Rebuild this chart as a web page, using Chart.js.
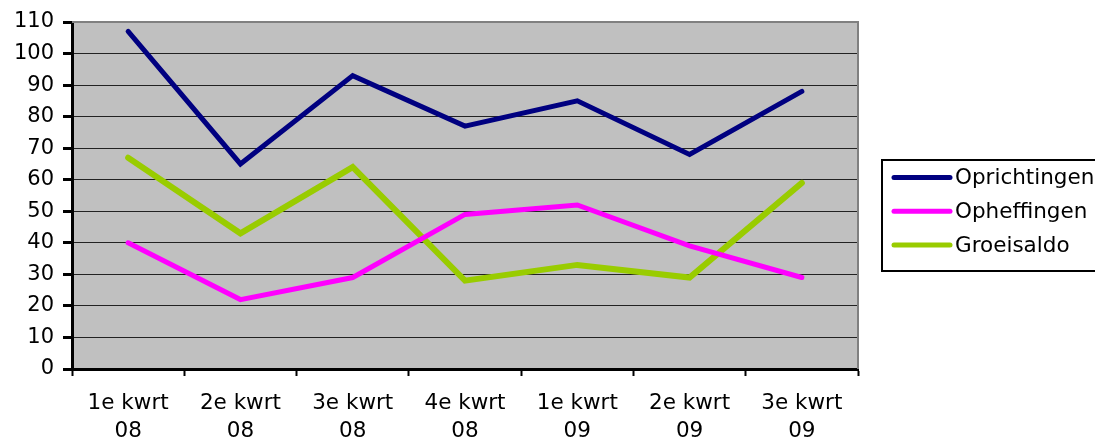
<!DOCTYPE html>
<html>
<head>
<meta charset="utf-8">
<script src="https://cdn.jsdelivr.net/npm/chart.js@4/dist/chart.umd.min.js"></script>
<style>
  html, body { margin: 0; padding: 0; background: #fff; }
  #wrap { width: 1095px; height: 440px; position: relative; }
</style>
</head>
<body>
<div id="wrap"><canvas id="c" width="1095" height="440"></canvas></div>
<script>
const categories = [["1e kwrt","08"],["2e kwrt","08"],["3e kwrt","08"],["4e kwrt","08"],["1e kwrt","09"],["2e kwrt","09"],["3e kwrt","09"]];
const oprichtingen = [107, 65, 93, 77, 85, 68, 88];
const opheffingen  = [40, 22, 29, 49, 52, 39, 29];
const groeisaldo   = [67, 43, 64, 28, 33, 29, 59];
const yTicks = { min: 0, max: 110, step: 10 };

const FONT = "'DejaVu Sans', Verdana, sans-serif";

const plotBg = {
  id: 'plotBg',
  beforeDraw(chart) {
    const { ctx, chartArea: a } = chart;
    ctx.save();
    ctx.fillStyle = '#C0C0C0';
    ctx.fillRect(a.left, a.top, a.right - a.left, a.bottom - a.top);
    ctx.restore();
  },
  afterDraw(chart) {
    const { ctx, chartArea: a } = chart;
    ctx.save();
    ctx.strokeStyle = '#808080';
    ctx.lineWidth = 2;
    ctx.beginPath();
    ctx.moveTo(a.left, a.top);
    ctx.lineTo(a.right, a.top);
    ctx.lineTo(a.right, a.bottom);
    ctx.stroke();
    // legend
    const bx = 882, by = 160, bw = 230, bh = 111;
    ctx.strokeStyle = '#000';
    ctx.lineWidth = 2;
    ctx.strokeRect(bx, by, bw, bh);
    ctx.font = '21.5px ' + FONT;
    ctx.textBaseline = 'middle';
    ctx.textAlign = 'left';
    chart.data.datasets.forEach((ds, i) => {
      const y = 177.5 + i * 33.8;
      ctx.strokeStyle = ds.borderColor;
      ctx.lineWidth = 5;
      ctx.lineCap = 'round';
      ctx.beginPath();
      ctx.moveTo(894, y);
      ctx.lineTo(950, y);
      ctx.stroke();
      ctx.fillStyle = '#000';
      ctx.fillText(ds.label, 955, y + 1);
    });
    ctx.restore();
  }
};

new Chart(document.getElementById('c'), {
  type: 'line',
  data: {
    labels: categories,
    datasets: [
      { label: 'Oprichtingen', data: oprichtingen, borderColor: '#000080', borderWidth: 5, pointRadius: 0, borderCapStyle: 'round', tension: 0 },
      { label: 'Opheffingen', data: opheffingen, borderColor: '#FF00FF', borderWidth: 5, pointRadius: 0, borderCapStyle: 'round', tension: 0 },
      { label: 'Groeisaldo', data: groeisaldo, borderColor: '#99CC00', borderWidth: 6, pointRadius: 0, borderCapStyle: 'round', tension: 0 }
    ]
  },
  options: {
    responsive: false,
    animation: false,
    layout: { padding: { left: 0, right: 237, top: 22, bottom: 0 } },
    plugins: { legend: { display: false }, tooltip: { enabled: false } },
    scales: {
      x: {
        offset: true,
        grid: { display: true, drawOnChartArea: false, drawTicks: true, tickLength: 7, tickColor: '#000', tickWidth: 2, offset: true },
        border: { display: true, color: '#000', width: 3 },
        ticks: { color: '#000', font: { family: FONT, size: 21.5, lineHeight: 1.29 }, padding: 14, maxRotation: 0, autoSkip: false },
        afterFit(s) { s.height = 71; }
      },
      y: {
        min: yTicks.min, max: yTicks.max,
        grid: { color: '#222', lineWidth: 1, tickLength: 9, tickColor: '#000', tickWidth: 3 },
        border: { display: true, color: '#000', width: 3 },
        ticks: { stepSize: yTicks.step, color: '#000', font: { family: FONT, size: 21 }, padding: 9 },
        afterFit(s) { s.width = 72; }
      }
    }
  },
  plugins: [plotBg]
});
</script>
</body>
</html>
